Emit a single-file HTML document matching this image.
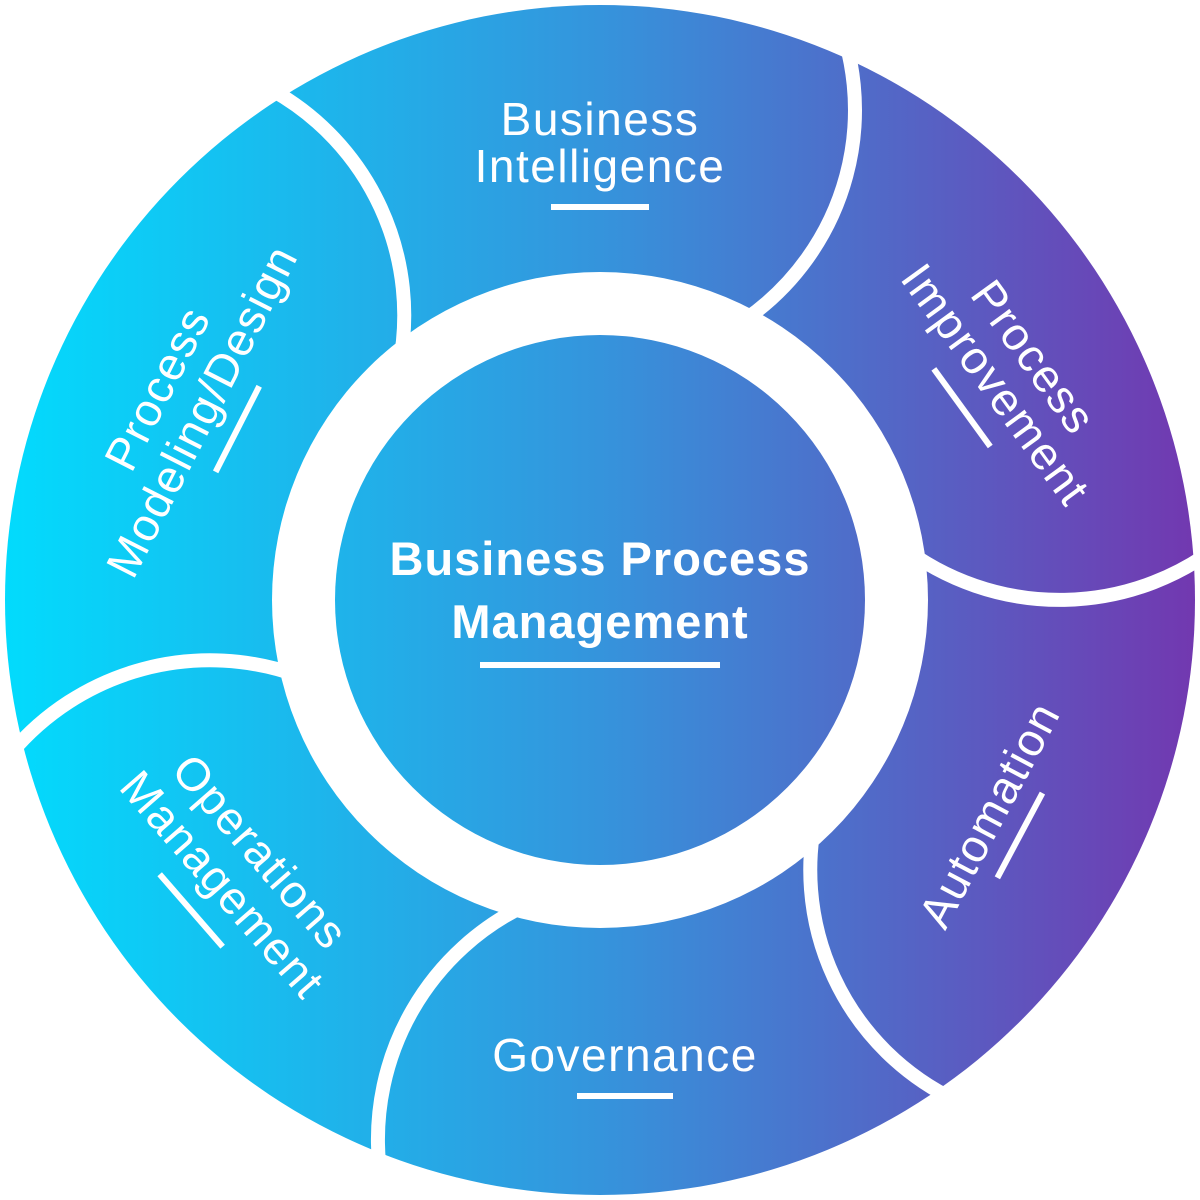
<!DOCTYPE html>
<html><head><meta charset="utf-8"><style>
html,body{margin:0;padding:0;background:#fff;}
svg{display:block;}
text{font-family:"Liberation Sans",sans-serif;fill:#fff;letter-spacing:1.5px;}
</style></head><body>
<svg width="1200" height="1200" viewBox="0 0 1200 1200" xmlns="http://www.w3.org/2000/svg">
<defs>
<linearGradient id="g" gradientUnits="userSpaceOnUse" x1="5" y1="0" x2="1195" y2="0">
<stop offset="0" stop-color="#02dbfd"/>
<stop offset="0.5" stop-color="#3594dc"/>
<stop offset="1" stop-color="#7238b0"/>
</linearGradient>
</defs>
<circle cx="600" cy="600" r="595" fill="url(#g)"/>
<g fill="none" stroke="#fff" stroke-width="14">
<path d="M831,2 A255,255 0 0 1 746,319"/>
<path d="M900,545 A260,260 0 0 0 1227,539"/>
<path d="M819,804 A255,255 0 0 0 957,1101"/>
<path d="M528,904 A260,260 0 0 0 379,1163"/>
<path d="M299,676 A260,260 0 0 0 11,753"/>
<path d="M399,367 A258,258 0 0 0 272,90"/>
</g>
<circle cx="600" cy="600" r="328" fill="#fff"/>
<circle cx="600" cy="600" r="265" fill="url(#g)"/>

<text x="600" y="575" font-size="47" font-weight="bold" text-anchor="middle" style="letter-spacing:1px">Business Process</text>
<text x="600" y="638" font-size="47" font-weight="bold" text-anchor="middle" style="letter-spacing:1px">Management</text>
<rect x="480" y="662" width="240" height="6" fill="#fff"/>

<text x="600" y="135" font-size="46" text-anchor="middle">Business</text>
<text x="600" y="182" font-size="46" text-anchor="middle">Intelligence</text>
<rect x="551" y="204" width="98" height="6" fill="#fff"/>

<text x="625" y="1071" font-size="46" text-anchor="middle">Governance</text>
<rect x="577" y="1093" width="96" height="6" fill="#fff"/>

<g transform="translate(200,410) rotate(-63)">
<text x="0" y="-32" font-size="46" text-anchor="middle">Process</text>
<text x="0" y="18" font-size="46" text-anchor="middle">Modeling/Design</text>
<rect x="-48" y="39" width="96" height="6" fill="#fff"/>
</g>

<g transform="translate(995,385) rotate(54)">
<text x="0" y="-32" font-size="46" text-anchor="middle">Process</text>
<text x="0" y="15" font-size="46" text-anchor="middle">Improvement</text>
<rect x="-49" y="37" width="96" height="6" fill="#fff"/>
</g>

<g transform="translate(990,815) rotate(-62)">
<text x="0" y="15" font-size="46" text-anchor="middle">Automation</text>
<rect x="-52" y="33" width="96" height="6" fill="#fff"/>
</g>

<g transform="translate(222,885) rotate(49)">
<text x="0" y="-35" font-size="46" text-anchor="middle">Operations</text>
<text x="0" y="15" font-size="46" text-anchor="middle">Management</text>
<rect x="-49" y="37" width="96" height="6" fill="#fff"/>
</g>
</svg>
</body></html>
